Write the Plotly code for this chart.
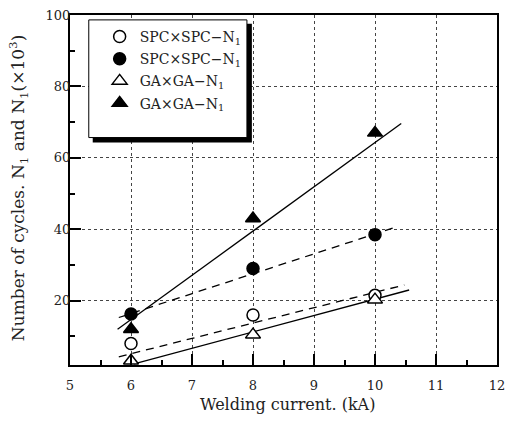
import plotly.graph_objects as go

# ---- data ----
current = [6, 8, 10]
spc_open = [8.0, 16.0, 21.5]      # SPC×SPC open circles
spc_fill = [16.3, 29.0, 38.5]     # SPC×SPC filled circles
ga_open = [3.2, 10.5, 20.3]       # GA×GA open triangles
ga_fill = [12.0, 43.0, 67.0]      # GA×GA filled triangles

# fitted lines (end points)
fit_ga_fill_x = [5.78, 10.43]
fit_ga_fill_y = [12.0, 69.6]
fit_spc_fill_x = [5.8, 10.38]
fit_spc_fill_y = [15.3, 40.8]
fit_spc_open_x = [5.8, 10.48]
fit_spc_open_y = [4.3, 24.4]
fit_ga_open_x = [6.05, 10.56]
fit_ga_open_y = [2.3, 23.0]

x_ticks = [5, 6, 7, 8, 9, 10, 11, 12]
y_ticks = [20, 40, 60, 80, 100]

W, H = 513, 430
L, R, T, B = 70, 11, 8, 65
PW, PH = W - L - R, H - T - B

FONT = "DejaVu Serif"
TXT = "#222"

def px_x(p):
    return (p - L) / PW

def px_y(p):
    return 1 - (p - T) / PH

fig = go.Figure()

# fit lines
fig.add_trace(go.Scatter(x=fit_ga_fill_x, y=fit_ga_fill_y, mode="lines",
                         line=dict(color="black", width=1.3), showlegend=False))
fig.add_trace(go.Scatter(x=fit_spc_fill_x, y=fit_spc_fill_y, mode="lines",
                         line=dict(color="black", width=1.3, dash="8px,6px"), showlegend=False))
fig.add_trace(go.Scatter(x=fit_spc_open_x, y=fit_spc_open_y, mode="lines",
                         line=dict(color="black", width=1.3, dash="8px,6px"), showlegend=False))
fig.add_trace(go.Scatter(x=fit_ga_open_x, y=fit_ga_open_y, mode="lines",
                         line=dict(color="black", width=1.3), showlegend=False))

# markers
mk = dict(size=12, line=dict(color="black", width=1.5))
fig.add_trace(go.Scatter(x=current, y=spc_open, mode="markers", name="SPC×SPC−N<sub>1</sub>",
                         legendgroup="a",
                         marker=dict(symbol="circle", color="white", **mk)))
fig.add_trace(go.Scatter(x=current, y=spc_fill, mode="markers", name="SPC×SPC−N<sub>1</sub>",
                         legendgroup="b",
                         marker=dict(symbol="circle", color="black", **mk)))
fig.add_trace(go.Scatter(x=current, y=ga_open, mode="markers", name="GA×GA−N<sub>1</sub>",
                         legendgroup="c",
                         marker=dict(symbol="triangle-up", color="white", size=13,
                                     line=dict(color="black", width=1.5))))
fig.add_trace(go.Scatter(x=current, y=ga_fill, mode="markers", name="GA×GA−N<sub>1</sub>",
                         legendgroup="d",
                         marker=dict(symbol="triangle-up", color="black", size=13,
                                     line=dict(color="black", width=1.5))))

# legend box with shadow
fig.add_shape(type="rect", xref="paper", yref="paper",
              x0=px_x(93), x1=px_x(254), y0=px_y(138), y1=px_y(17),
              fillcolor="black", line=dict(width=0), layer="above")
fig.add_shape(type="rect", xref="paper", yref="paper",
              x0=px_x(89), x1=px_x(249), y0=px_y(133), y1=px_y(13),
              fillcolor="white", line=dict(color="black", width=1), layer="above")

axis_common = dict(
    showline=True, linecolor="black", linewidth=2, mirror=True,
    ticks="inside", ticklen=11, tickwidth=1.5, tickcolor="black",
    showgrid=True, gridcolor="#444", griddash="dot", gridwidth=1,
    zeroline=False, tickfont=dict(family=FONT, size=13, color=TXT),
)

fig.update_xaxes(range=[5, 12], tickvals=x_ticks, ticktext=[str(v) for v in x_ticks],
                 minor=dict(dtick=0.5, ticks="inside", ticklen=5, tickcolor="black", showgrid=False),
                 ticklabelstandoff=7, **axis_common)
fig.update_yaxes(range=[2, 100], tickvals=y_ticks, ticktext=[str(v) for v in y_ticks],
                 minor=dict(tickvals=[10, 30, 50, 70, 90], ticks="inside", ticklen=5,
                            tickcolor="black", showgrid=False),
                 ticklabelstandoff=-5, **axis_common)

fig.add_annotation(text="Welding current. (kA)", xref="paper", yref="paper",
                   x=px_x(290), y=px_y(405), xanchor="center", yanchor="middle",
                   showarrow=False, font=dict(family=FONT, size=16, color=TXT))
fig.add_annotation(text="Number of cycles. N<sub>1</sub> and N<sub>1</sub>(×10<sup>3</sup>)",
                   xref="paper", yref="paper", x=px_x(18), y=px_y(185), textangle=-90,
                   xanchor="center", yanchor="middle",
                   showarrow=False, font=dict(family=FONT, size=17, color=TXT))

fig.update_layout(
    width=W, height=H,
    margin=dict(l=L, r=R, t=T, b=B),
    paper_bgcolor="white", plot_bgcolor="white",
    legend=dict(x=px_x(100), y=px_y(14), xanchor="left", yanchor="top",
                bgcolor="rgba(0,0,0,0)", borderwidth=0,
                font=dict(family=FONT, size=14, color=TXT),
                traceorder="grouped", tracegroupgap=1, itemwidth=30),
)

fig.write_html("out.html")
